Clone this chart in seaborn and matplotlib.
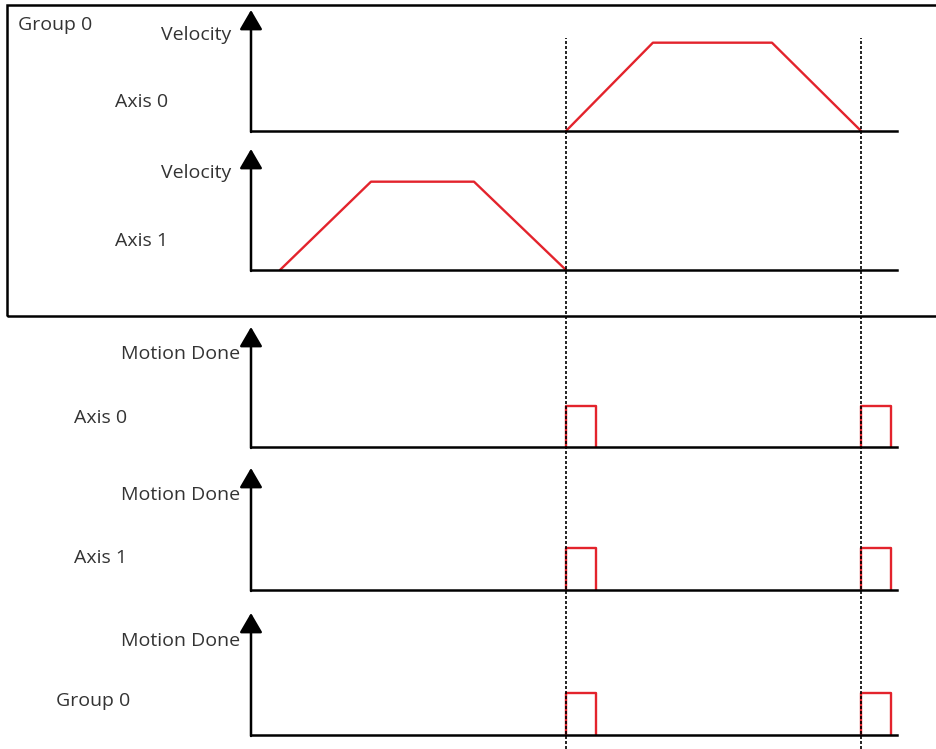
import numpy as np
import pandas as pd
import matplotlib
matplotlib.use('Agg')
import matplotlib.pyplot as plt
import seaborn as sns
from matplotlib.patches import Rectangle

# time in arbitrary units (dashed markers at t=100 and t=193.7)
T_END = 205.1
SYNC_TIMES = [100.0, 193.7]

# velocity profiles (trapezoids), normalised to 1
AXIS0_VEL_T = [100.0, 127.6, 165.4, 193.7]
AXIS0_VEL_V = [0, 1, 1, 0]
AXIS1_VEL_T = [9.2, 38.1, 70.8, 100.0]
AXIS1_VEL_V = [0, 1, 1, 0]

# motion done pulses
PULSE_T = [100.0, 100.0, 109.5, 109.5]
PULSE_V = [0, 1, 1, 0]
PULSE2_T = [193.7, 193.7, 203.2, 203.2]

PANEL_LABELS = ['Velocity', 'Velocity', 'Motion Done', 'Motion Done', 'Motion Done']
PANEL_NAMES = ['Axis 0', 'Axis 1', 'Axis 0', 'Axis 1', 'Group 0']

W, H = 936, 749
RED = '#e3232c'
TXT = '#333333'
FS = 14

sns.set_style('white')
plt.rcParams['font.family'] = ['Open Sans', 'DejaVu Sans']

fig = plt.figure(figsize=(W / 100, H / 100), dpi=100)

# panel geometry in pixels: (baseline y, arrow tip y)
panels = [(131, 10), (270, 149), (447, 327), (590, 468), (735, 613)]
x0_px, x1_px = 251, 897

series = [
    [(AXIS0_VEL_T, AXIS0_VEL_V)],
    [(AXIS1_VEL_T, AXIS1_VEL_V)],
    [(PULSE_T, PULSE_V), (PULSE2_T, PULSE_V)],
    [(PULSE_T, PULSE_V), (PULSE2_T, PULSE_V)],
    [(PULSE_T, PULSE_V), (PULSE2_T, PULSE_V)],
]
ytops = [1.37, 1.37, 2.9, 2.9, 2.9]
label_pos = [(231, 35, 168, 102), (231, 173, 168, 241),
             (240, 354, 127, 418), (240, 495, 127, 558),
             (240, 641, 130, 701)]

for i, (base, tip) in enumerate(panels):
    ax = fig.add_axes([x0_px / W, (H - base) / H, (x1_px - x0_px) / W, (base - tip) / H])
    for t, v in series[i]:
        df = pd.DataFrame({'t': t, 'v': v})
        sns.lineplot(data=df, x='t', y='v', ax=ax, color=RED, lw=1.7,
                     estimator=None, sort=False, clip_on=False)
    ax.set_xlim(0, T_END)
    ax.set_ylim(0, ytops[i])
    ax.set_xticks([])
    ax.set_yticks([])
    ax.set_xlabel('')
    ax.set_ylabel('')
    for s in ['top', 'right', 'left']:
        ax.spines[s].set_visible(False)
    ax.spines['bottom'].set_linewidth(1.8)
    ax.spines['bottom'].set_color('black')
    ax.patch.set_alpha(0)
    ax.annotate('', xy=(0, 1), xytext=(0, -0.008), xycoords='axes fraction',
                arrowprops=dict(arrowstyle='-|>,head_length=0.6,head_width=0.35',
                                lw=1.8, color='black', mutation_scale=20,
                                shrinkA=0, shrinkB=0))
    rx, ry, nx, ny = label_pos[i]
    fig.text(rx / W, 1 - ry / H, PANEL_LABELS[i], ha='right', va='center',
             fontsize=FS, color=TXT)
    fig.text(nx / W, 1 - ny / H, PANEL_NAMES[i], ha='right', va='center',
             fontsize=FS, color=TXT)

# dashed sync lines spanning all panels
ov = fig.add_axes([x0_px / W, 0, (x1_px - x0_px) / W, (H - 38) / H])
ov.set_xlim(0, T_END)
ov.set_ylim(0, 1)
for t in SYNC_TIMES:
    ov.axvline(t, color='black', lw=1.2, ls=(0, (1.8, 1.2)))
ov.axis('off')
ov.patch.set_alpha(0)

# group box
fig.patches.append(Rectangle((7 / W, (H - 316) / H), 1.1, 311 / H, transform=fig.transFigure,
                             fill=False, lw=1.8, edgecolor='black'))
fig.text(18 / W, 1 - 25 / H, 'Group 0', ha='left', va='center', fontsize=FS, color=TXT)

fig.savefig('out.png', dpi=100)
